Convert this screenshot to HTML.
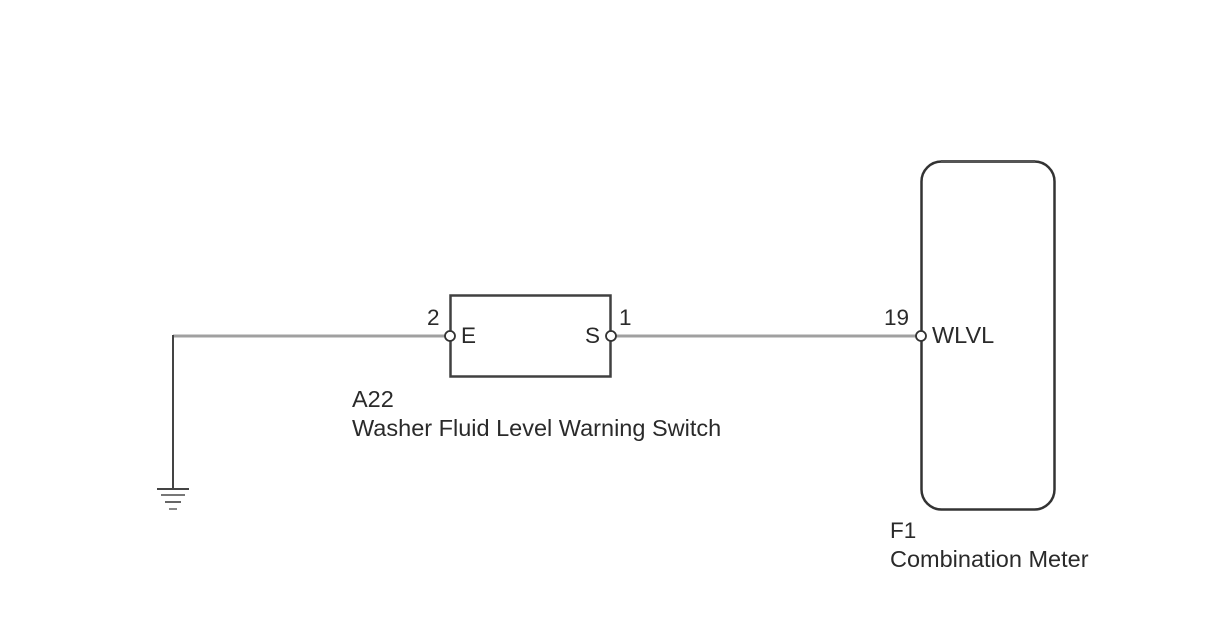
<!DOCTYPE html>
<html>
<head>
<meta charset="utf-8">
<style>
html,body{margin:0;padding:0;background:#fff;}
svg{display:block;}
text{font-family:"Liberation Sans",sans-serif;font-size:23.5px;fill:#2a2a2a;}
text.n{font-size:22.5px;}
</style>
</head>
<body>
<svg width="1208" height="644" viewBox="0 0 1208 644">
<rect width="1208" height="644" fill="#fff"/>
<!-- wires -->
<path d="M173 336H450" stroke="#a0a0a0" stroke-width="3" fill="none"/>
<path d="M611 336H921" stroke="#a0a0a0" stroke-width="3" fill="none"/>
<path d="M173 335V489" stroke="#444" stroke-width="2" fill="none"/>
<!-- ground -->
<path d="M157 489H189" stroke="#444" stroke-width="2"/>
<path d="M161 495H185" stroke="#777" stroke-width="2"/>
<path d="M165 502H181" stroke="#666" stroke-width="2"/>
<path d="M169 509H177" stroke="#888" stroke-width="2"/>
<!-- switch -->
<rect x="450.500" y="295.500" width="160" height="81" fill="none" stroke="#404040" stroke-width="2.500"/>
<!-- meter -->
<rect x="921.500" y="161.500" width="133" height="348" rx="20" ry="20" fill="none" stroke="#333" stroke-width="2.500"/>
<path d="M941 161.500H1035" stroke="#555" stroke-width="3"/>
<!-- terminals -->
<circle cx="450" cy="336" r="5" fill="#fff" stroke="#333" stroke-width="1.800"/>
<circle cx="611" cy="336" r="5" fill="#fff" stroke="#333" stroke-width="1.800"/>
<circle cx="921" cy="336" r="5" fill="#fff" stroke="#333" stroke-width="1.800"/>
<!-- labels -->
<text class="n" x="427" y="325">2</text>
<text class="n" x="461" y="343">E</text>
<text class="n" x="585" y="343">S</text>
<text class="n" x="619" y="325">1</text>
<text class="n" x="884" y="325">19</text>
<text x="932" y="343">WLVL</text>
<text x="352" y="407">A22</text>
<text x="352" y="436">Washer Fluid Level Warning Switch</text>
<text class="n" x="890" y="538">F1</text>
<text x="890" y="567">Combination Meter</text>
</svg>
</body>
</html>
